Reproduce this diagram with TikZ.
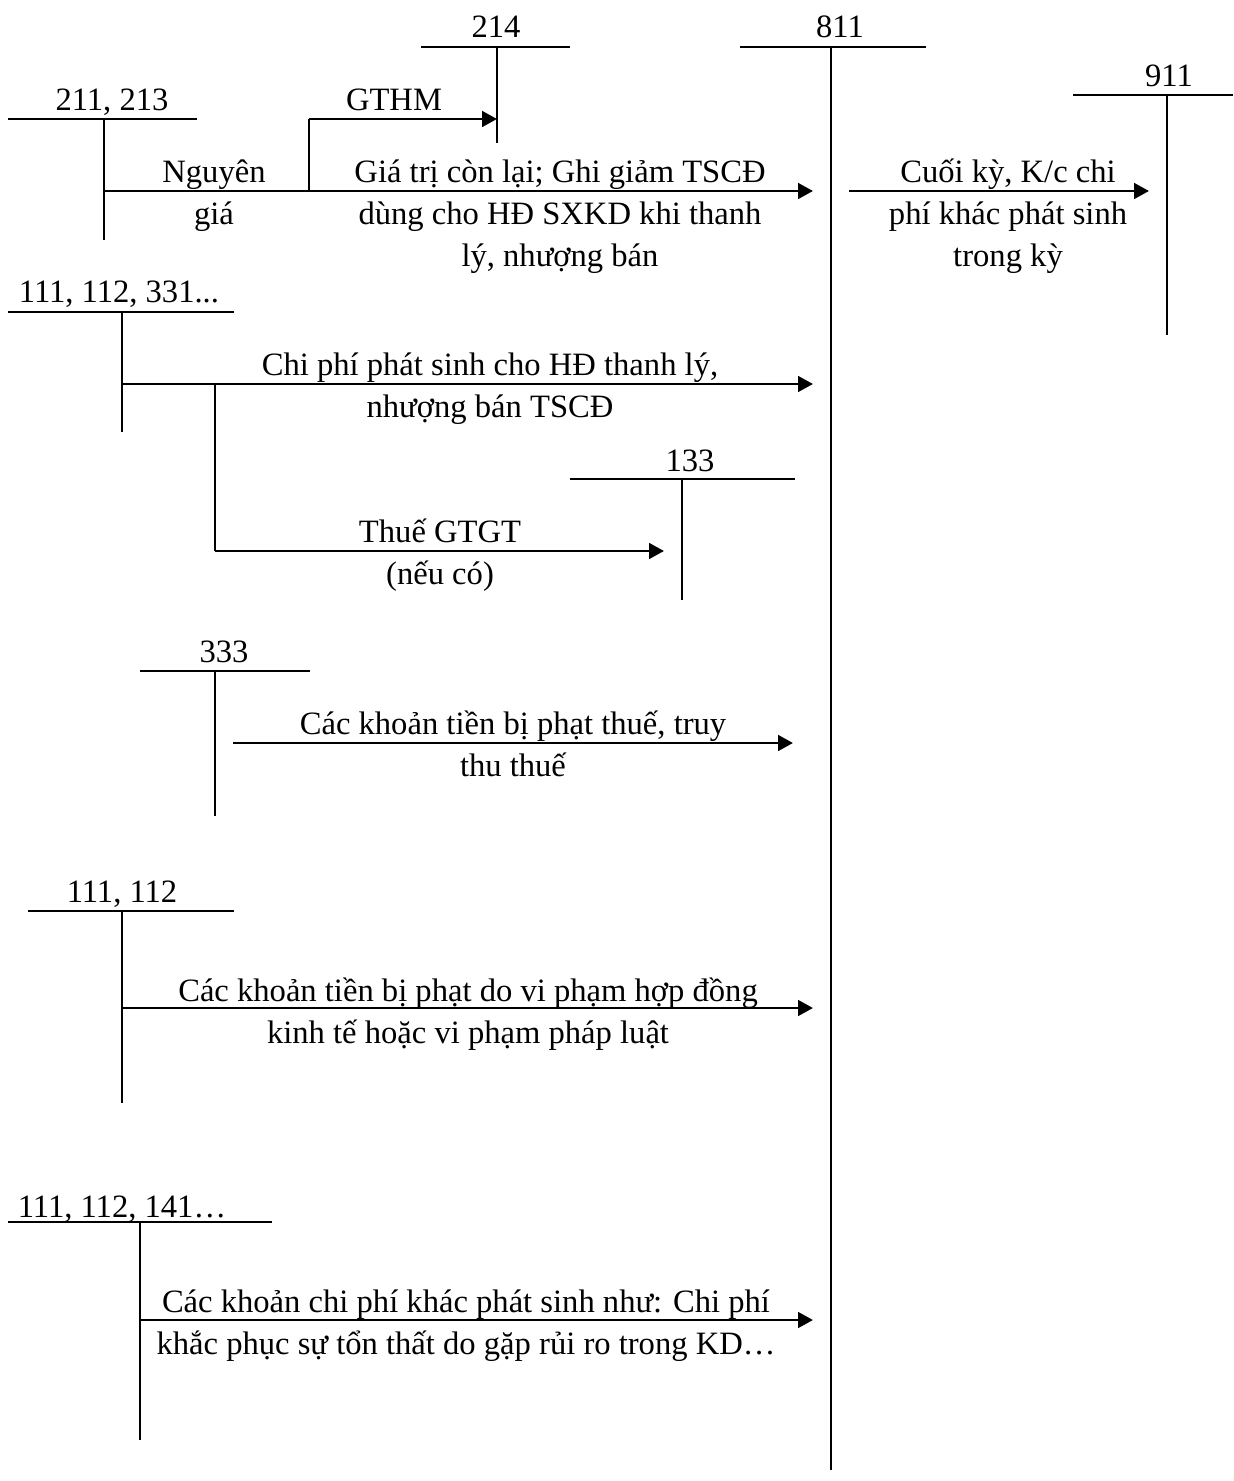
\documentclass[tikz,border=0pt]{standalone}
\usepackage{fontspec}
\setmainfont{Liberation Serif}
\usetikzlibrary{arrows.meta}
% multi-line label whose reference point is the baseline of its first line
\newcommand{\ml}[1]{\begin{tabular}[t]{@{}c@{}}#1\end{tabular}}
\begin{document}
\begin{tikzpicture}[x=0.5pt,y=-0.5pt,
  tline/.style={line width=0.9pt},
  flow/.style={line width=1.45pt,-{Triangle[length=7.5pt,width=7.8pt]}},
  branchline/.style={line width=1.45pt},
  acct/.style={anchor=base,inner sep=0pt},
  txt/.style={anchor=base,inner sep=0pt},
  every node/.style={font=\fontsize{16.3}{21}\selectfont}]
\useasboundingbox (0,0) rectangle (1233,1481);

% ---- T-accounts: top bar, stem, number ----
% 214
\coordinate (t214) at (497,47);
\draw[tline] (421,47) -- (570,47);
\draw[tline] (t214) -- (497,143);
\node[acct] (n214) at (496,38) {214};
% 811
\coordinate (t811) at (831,47);
\draw[tline] (740,47) -- (926,47);
\draw[tline] (t811) -- (831,1470);
\node[acct] (n811) at (840,38) {811};
% 911
\coordinate (t911) at (1167,95);
\draw[tline] (1073,95) -- (1233,95);
\draw[tline] (t911) -- (1167,335);
\node[acct] (n911) at (1169,87) {911};
% 211, 213
\coordinate (t211) at (104,119);
\draw[tline] (8,119) -- (197,119);
\draw[tline] (t211) -- (104,240);
\node[acct] (n211) at (112,111) {211, 213};
% 111, 112, 331...
\coordinate (t331) at (122,312);
\draw[tline] (8,312) -- (234,312);
\draw[tline] (t331) -- (122,432);
\node[acct] (n331) at (119,303) {111, 112, 331...};
% 133
\coordinate (t133) at (682,479);
\draw[tline] (570,479) -- (795,479);
\draw[tline] (t133) -- (682,600);
\node[acct] (n133) at (690,471) {133};
% 333
\coordinate (t333) at (215,671);
\draw[tline] (140,671) -- (310,671);
\draw[tline] (t333) -- (215,816);
\node[acct] (n333) at (224,662) {333};
% 111, 112
\coordinate (t112) at (122,911);
\draw[tline] (28,911) -- (234,911);
\draw[tline] (t112) -- (122,1103);
\node[acct] (n112) at (122,902) {111, 112};
% 111, 112, 141...
\coordinate (t141) at (140,1222);
\draw[tline] (8,1222) -- (272,1222);
\draw[tline] (t141) -- (140,1440);
\node[acct] (n141) at (122,1217) {111, 112, 141…};

% ---- flows ----
% disposal of fixed assets
\coordinate (a1s) at (104,191);
\coordinate (a1e) at (813,191);
\coordinate (a1b) at (309,191);
\coordinate (a1u) at (309,119);
\coordinate (a1t) at (497,119);
\draw[flow] (a1s) -- (a1e);
\draw[branchline] (a1b) -- (a1u);
\draw[flow] (a1u) -- (a1t);
\node[txt] (l1a) at (394,111) {GTHM};
\node[txt] (l1b) at (214,183) {\ml{Nguyên\\giá}};
\node[txt] (l1c) at (560,183) {\ml{Giá trị còn lại; Ghi giảm TSCĐ\\dùng cho HĐ SXKD khi thanh\\lý, nhượng bán}};

% closing to 911
\coordinate (a2s) at (849,191);
\coordinate (a2e) at (1149,191);
\draw[flow] (a2s) -- (a2e);
\node[txt] (l2) at (1008,183) {\ml{Cuối kỳ, K/c chi\\phí khác phát sinh\\trong kỳ}};

% disposal expenses and VAT
\coordinate (a3s) at (122,384);
\coordinate (a3e) at (813,384);
\coordinate (a3b) at (215,384);
\coordinate (a3d) at (215,551);
\coordinate (a3t) at (664,551);
\draw[flow] (a3s) -- (a3e);
\draw[branchline] (a3b) -- (a3d);
\draw[flow] (a3d) -- (a3t);
\node[txt] (l3a) at (490,375) {\ml{Chi phí phát sinh cho HĐ thanh lý,\\nhượng bán TSCĐ}};
\node[txt] (l3b) at (440,542) {\ml{Thuế GTGT\\(nếu có)}};

% tax penalties
\coordinate (a4s) at (233,743);
\coordinate (a4e) at (793,743);
\draw[flow] (a4s) -- (a4e);
\node[txt] (l4) at (513,734) {\ml{Các khoản tiền bị phạt thuế, truy\\thu thuế}};

% contract penalties
\coordinate (a5s) at (122,1008);
\coordinate (a5e) at (813,1008);
\draw[flow] (a5s) -- (a5e);
\node[txt] (l5) at (468,1001) {\ml{Các khoản tiền bị phạt do vi phạm hợp đồng\\kinh tế hoặc vi phạm pháp luật}};

% other expenses
\coordinate (a6s) at (140,1320);
\coordinate (a6e) at (813,1320);
\draw[flow] (a6s) -- (a6e);
\node[txt] (l6) at (466,1312) {\ml{Các khoản chi phí khác phát sinh như: Chi phí\\khắc phục sự tổn thất do gặp rủi ro trong KD…}};
\end{tikzpicture}
\end{document}
